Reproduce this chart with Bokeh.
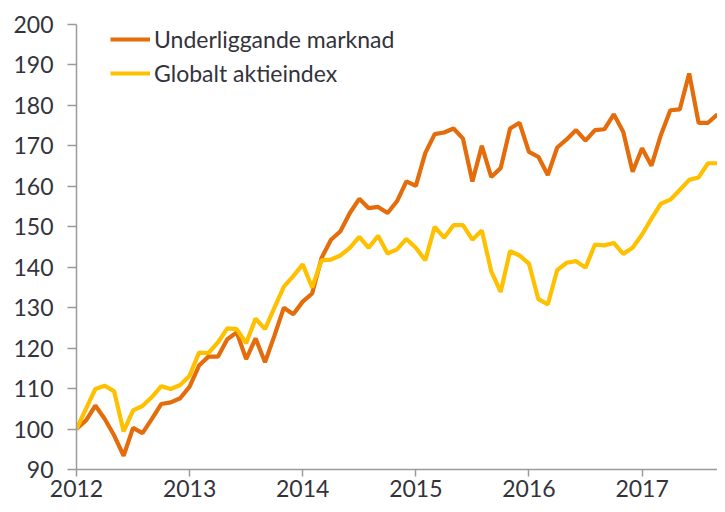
from bokeh.plotting import figure
from bokeh.models import FixedTicker, Range1d, Legend, LegendItem, ColumnDataSource
from bokeh.embed import file_html
from bokeh.resources import INLINE

years = [2012, 2013, 2014, 2015, 2016, 2017]
y_ticks = [90, 100, 110, 120, 130, 140, 150, 160, 170, 180, 190, 200]

underliggande = [100, 102.1, 105.8, 102.5, 98.4, 93.4, 100.3, 99.0, 102.5, 106.2, 106.6, 107.6,
                 110.5, 115.7, 117.9, 117.9, 122.2, 123.9, 117.3, 122.4, 116.5, 123.1, 130.0, 128.4,
                 131.5, 133.5, 142.3, 146.8, 148.9, 153.4, 156.9, 154.6, 154.9, 153.4, 156.3, 161.2,
                 160.1, 168.2, 172.9, 173.3, 174.3, 171.8, 161.2, 170.0, 162.3, 164.5, 174.3, 175.7,
                 168.5, 167.3, 162.8, 169.6, 171.6, 173.9, 171.3, 173.9, 174.1, 177.8, 173.5, 163.6,
                 169.4, 165.1, 172.7, 178.8, 179.0, 187.9, 175.7, 175.7, 177.8]
globalt = [100, 105.0, 109.9, 110.7, 109.3, 99.4, 104.6, 105.7, 107.9, 110.6, 109.9, 110.9,
           113.2, 118.9, 118.8, 121.4, 124.9, 124.7, 121.2, 127.3, 124.7, 130.0, 135.2, 137.8,
           140.7, 135.0, 141.7, 141.9, 142.9, 144.8, 147.5, 144.8, 147.8, 143.4, 144.4, 147.0,
           144.8, 141.7, 150.0, 147.3, 150.4, 150.4, 146.8, 149.1, 139.0, 133.9, 144.0, 142.9,
           140.9, 132.1, 130.8, 139.3, 141.1, 141.5, 139.9, 145.6, 145.4, 146.0, 143.3, 144.8,
           148.1, 152.0, 155.7, 156.7, 159.1, 161.6, 162.2, 165.7, 165.7]
labels = ["Underliggande marknad", "Globalt aktieindex"]

x = [2012 + i / 12 for i in range(len(underliggande))]
src = ColumnDataSource(dict(x=x, u=underliggande, g=globalt))

FONT = "Lato"
TXT = "#33333b"
AX = "#9a9a9a"
FS = "23px"

W, H = 717, 504
TOP, BOTTOM = 24, 35
p = figure(width=W, height=H, output_backend="svg", toolbar_location=None,
           x_range=Range1d(2012, 2017.667), y_range=Range1d(90, 200),
           min_border_left=76, min_border_right=0, min_border_top=TOP, min_border_bottom=BOTTOM)
p.outline_line_color = None
p.grid.visible = False
p.background_fill_color = "white"

r1 = p.line("x", "u", source=src, line_color="#E46C0A", line_width=4.2)
r2 = p.line("x", "g", source=src, line_color="#FFC000", line_width=4.2)

for ax in (p.xaxis[0], p.yaxis[0]):
    ax.axis_line_color = AX
    ax.axis_line_width = 1.5
    ax.major_tick_line_color = AX
    ax.major_tick_line_width = 1.5
    ax.major_tick_in = 0
    ax.minor_tick_line_color = None
    ax.major_label_text_font = FONT
    ax.major_label_text_font_size = FS
    ax.major_label_text_color = TXT

p.xaxis.ticker = FixedTicker(ticks=years)
p.xaxis.major_label_overrides = {yv: str(yv) for yv in years}
p.xaxis.major_tick_out = 7
p.xaxis.major_label_standoff = 3
p.yaxis.ticker = FixedTicker(ticks=y_ticks)
p.yaxis.major_tick_out = 9
p.yaxis.major_label_standoff = 14

frame_h = H - TOP - BOTTOM
legend_h = 30 + 4 + 30
legend = Legend(items=[LegendItem(label=labels[0], renderers=[r1]),
                       LegendItem(label=labels[1], renderers=[r2])],
                location=(34, frame_h - legend_h), orientation="vertical")
legend.margin = 0
legend.padding = 0
legend.spacing = 4
legend.glyph_width = 40
legend.glyph_height = 30
legend.label_height = 30
legend.label_standoff = 4
legend.label_text_font = FONT
legend.label_text_font_size = FS
legend.label_text_color = TXT
legend.border_line_color = None
legend.background_fill_alpha = 0
p.add_layout(legend, "center")

open("out.html", "w").write(file_html(p, INLINE))
